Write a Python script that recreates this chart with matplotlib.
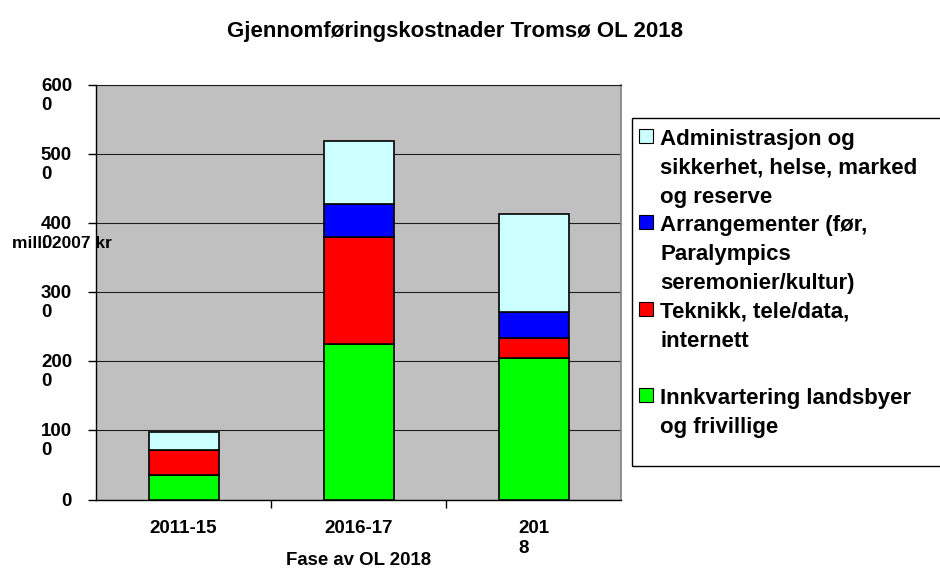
import matplotlib
matplotlib.use("Agg")

import numpy as np
import matplotlib.pyplot as plt
from matplotlib.patches import Rectangle
from matplotlib.transforms import blended_transform_factory, offset_copy

# -------------------------------
# DATA
# -------------------------------
PHASES = ["2011-15", "2016-17", "201\n8"]
INNKVARTERING = [354, 2250, 2040]
TEKNIKK = [361, 1540, 300]
ARRANGEMENTER = [0, 490, 370]
ADMINISTRASJON = [265, 900, 1425]

SERIES = [INNKVARTERING, TEKNIKK, ARRANGEMENTER, ADMINISTRASJON]
SERIES_LABELS = [
    "Innkvartering landsbyer\nog frivillige",
    "Teknikk, tele/data,\ninternett\n",
    "Arrangementer (før,\nParalympics\nseremonier/kultur)",
    "Administrasjon og\nsikkerhet, helse, marked\nog reserve",
]
SERIES_COLORS = ["#00FF00", "#FF0000", "#0000FF", "#CCFFFF"]

Y_TICKS = [0, 1000, 2000, 3000, 4000, 5000, 6000]
Y_TICK_LABELS = ["0", "100\n0", "200\n0", "300\n0", "400\n0", "500\n0", "600\n0"]

TITLE = "Gjennomføringskostnader Tromsø OL 2018"
X_LABEL = "Fase av OL 2018"
Y_LABEL = "mill. 2007 kr"

# -------------------------------
# LAYOUT (pixels of a 940x568 canvas)
# -------------------------------
W, H = 940, 568


def fx(px):
    return px / W


def fy(py):
    return 1 - py / H


plt.rcParams["font.family"] = ["Liberation Sans", "DejaVu Sans"]
plt.rcParams["font.weight"] = "bold"

fig = plt.figure(figsize=(W / 100, H / 100), dpi=100)
ax = fig.add_axes([fx(96), fy(499.5), 525 / W, 414.8 / H])
ax.set_facecolor("#C0C0C0")

x = np.arange(len(PHASES))
bottom = np.zeros(len(PHASES))
for vals, color in zip(SERIES, SERIES_COLORS):
    ax.bar(x, vals, 0.4, bottom=bottom, color=color, edgecolor="black",
           linewidth=1.2, zorder=3)
    bottom += np.array(vals)

ax.set_xlim(-0.5, len(PHASES) - 0.5)
ax.set_ylim(0, 6000)

ax.set_axisbelow(True)
ax.set_yticks(Y_TICKS)
ax.set_yticklabels([])
ax.yaxis.grid(True, color="#202020", linewidth=0.8)
ax.tick_params(axis="y", direction="out", length=6, width=1, color="black")

ax.set_xticks(x, PHASES, fontsize=13.5, fontweight="bold", multialignment="left")
ax.set_xticks(x[:-1] + 0.5, minor=True)
ax.tick_params(axis="x", which="major", length=0, pad=15)
ax.tick_params(axis="x", which="minor", direction="out", length=6, width=1, color="black")

for side in ["left", "bottom"]:
    ax.spines[side].set_color("black")
    ax.spines[side].set_linewidth(1)
ax.spines["top"].set_color("#202020")
ax.spines["top"].set_linewidth(0.8)
ax.spines["right"].set_color("#808080")
ax.spines["right"].set_linewidth(1.2)

# wrapped y tick labels, first line centred on the tick
ytrans = offset_copy(blended_transform_factory(ax.transAxes, ax.transData),
                     fig=fig, y=7, units="dots")
for v, lbl in zip(Y_TICKS, Y_TICK_LABELS):
    ax.text(-24 / 525, v, lbl, transform=ytrans, ha="right", va="top",
            multialignment="left", linespacing=1.15, fontsize=13.5,
            fontweight="bold", clip_on=False)

fig.text(fx(12), fy(248), Y_LABEL, ha="left", va="baseline", fontsize=12.5,
         fontweight="bold", zorder=5)
fig.text(fx(358.5), fy(565), X_LABEL, ha="center", va="baseline", fontsize=13.4,
         fontweight="bold")
fig.text(fx(455), fy(37), TITLE, ha="center", va="baseline", fontsize=16,
         fontweight="bold")

# legend box drawn by hand (runs off the right edge like the original)
fig.add_artist(Rectangle((fx(632), fy(466)), fx(320), (466 - 118) / H,
                         transform=fig.transFigure, facecolor="white",
                         edgecolor="black", linewidth=1))
line_y = 145
for label, color in zip(reversed(SERIES_LABELS), reversed(SERIES_COLORS)):
    fig.add_artist(Rectangle((fx(639), fy(line_y - 2)), 14 / W, 14 / H,
                             transform=fig.transFigure, facecolor=color,
                             edgecolor="black", linewidth=0.8))
    for line in label.split("\n"):
        if line:
            fig.text(fx(660), fy(line_y), line, ha="left", va="baseline",
                     fontsize=16, fontweight="bold")
        line_y += 28.8

fig.savefig("out.png", dpi=100)
plt.close(fig)
